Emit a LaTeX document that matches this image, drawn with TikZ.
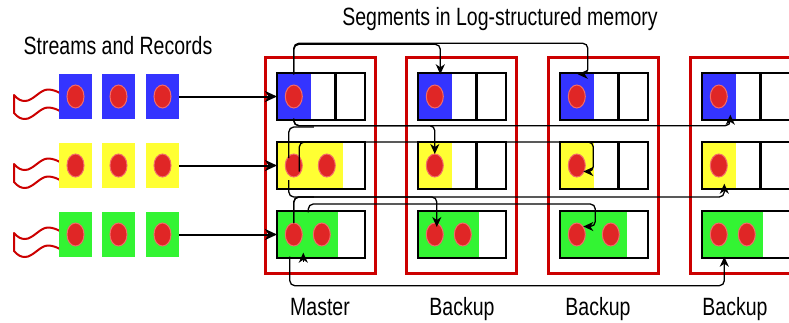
\documentclass[tikz,border=0pt]{standalone}
\usepackage{fontspec}
\newfontfamily\labelfont{Liberation Sans}[FakeStretch=0.78]
\usetikzlibrary{arrows.meta,calc,shapes.geometric}
\definecolor{MemRed}{HTML}{CC0000}
\definecolor{RecBlue}{HTML}{3434FF}
\definecolor{RecYellow}{HTML}{FFFF33}
\definecolor{RecGreen}{HTML}{33F433}
\definecolor{BallRed}{HTML}{E02626}
\definecolor{BallRim}{HTML}{F26A6A}

\begin{document}
\begin{tikzpicture}[x=1pt,y=-1pt,
  rec/.style={rectangle,inner sep=0pt,outer sep=0pt,minimum width=33pt,minimum height=45pt},
  ball/.style={ellipse,inner sep=0pt,outer sep=0pt,minimum width=17pt,minimum height=23pt,fill=BallRed,draw=BallRim,line width=1pt},
  seg/.style={rectangle,draw,fill=white,line width=2.6pt,inner sep=0pt,outer sep=0pt,minimum width=88pt,minimum height=47pt},
  grp/.style={draw=MemRed,line width=3pt},
  flag/.style={draw=MemRed,line width=2pt,fill=white,line join=round},
  feed/.style={line width=2pt,-{Stealth[length=12pt,width=11pt,inset=3.5pt]}},
  link/.style={line width=1.3pt,rounded corners=5pt,-{Stealth[length=10pt,width=9pt,inset=3pt]}},
  wire/.style={line width=1.3pt,rounded corners=5pt},
  lbl/.style={font=\labelfont\fontsize{25}{28}\selectfont,inner sep=0pt,anchor=base}]
  \useasboundingbox (0,0) rectangle (789,322);

  % Titles
  \node[lbl] (ttlstreams) at (118,54) {Streams and Records};
  \node[lbl] (ttlsegs) at (500,25) {Segments in Log-structured memory};

  % Streams
  \foreach \rw/\col/\y in {1/RecBlue/96.5,2/RecYellow/165.5,3/RecGreen/234.5}{
    \draw[flag] (14,\y-1.5) .. controls (18,\y+3) and (21,\y+4.5) .. (25,\y+4.5)
      .. controls (33,\y+4.5) and (40,\y-7) .. (48,\y-7)
      .. controls (53,\y-7) and (57,\y-5) .. (60,\y-3.5) -- (60,\y+14.5)
      .. controls (57,\y+13) and (53,\y+11) .. (48,\y+11)
      .. controls (40,\y+11) and (33,\y+22.5) .. (25,\y+22.5)
      .. controls (21,\y+22.5) and (18,\y+21) .. (14,\y+16.5) -- cycle;
    \foreach \k/\x in {1/75.5,2/118.5,3/162.5}{
      \node[rec,fill=\col] (s\rw\k) at (\x,\y) {};
      \node[ball] (b\rw\k) at (s\rw\k) {};
    }
  }

  % Segments
  \foreach \g/\x in {m/277,a/418,b/560,c/702}{
    \draw[grp] (\x-12,57) rectangle (\x+98,273);
    \foreach \rw/\y in {1/96.5,2/165.5,3/234.5}{
      \node[seg] (\g\rw) at (\x+44,\y) {};
      \draw[line width=2.6pt] (\g\rw.north west) ++(29.33,0) -- ++(0,47) ++(29.33,-47) -- ++(0,47);
    }
  }
  \foreach \s/\col/\w in {m1/RecBlue/33,m2/RecYellow/65,m3/RecGreen/60,
                         a1/RecBlue/33,a2/RecYellow/33,a3/RecGreen/60,
                         b1/RecBlue/33,b2/RecYellow/33,b3/RecGreen/66,
                         c1/RecBlue/33,c2/RecYellow/33,c3/RecGreen/60}{
    \node[rec,fill=\col,minimum width=\w pt,minimum height=44.4pt,anchor=west] (\s r) at ($(\s.west)+(1.3,0)$) {};
    \node[ball] (\s b1) at ($(\s r.west)+(15.5,0)$) {};
  }
  \foreach \s in {m2,m3,a3,b3,c3}
    \node[ball] (\s b2) at ($(\s r.east)+(-16.5,0)$) {};

  % Streams into the master
  \foreach \rw in {1,2,3}
    \draw[feed] (s\rw3) -- (m\rw);

  % Copies to the backups
  \draw[link] (m1b1 |- m1r.north) |- ($(a1r.north)+(4.5,-30)$) -- ($(a1r.north)+(4.5,0)$);
  \draw[link] (m1b1 |- m1r.north) |- ($(b1r.north)+(10,-31)$) |- (b1r.north);
  \draw[link] (m1b1 |- m1r.south) -- ++(0,7) -| (a2b1.north);
  \draw[link] (m1b1 |- m1r.south) -- ++(0,7) -| ($(c1r.south)+(10.5,-4)$);
  \draw[wire] ($(m2b1.north)+(-5,4)$) |- ($(m2b1.north)+(20,-27)$);
  \draw[link] ($(m2b1.east)+(-3,6)$) |- ($(b2b1.east)+(8,-23.5)$) |- ($(b2b1.east)+(-2,6)$);
  \draw[wire] ($(m2b1.south)+(-5,3)$) |- ($(m2b1.south)+(20,20)$);
  \draw[link] (m3b1.north) -- ++(0,-26) -| ($(a3b1.north)+(2,4)$);
  \draw[link] (m3b1.north) -- ++(0,-26) -| ($(c2r.south)+(4.5,-4)$);
  \draw[link] (m3r.north) |- ($(b3b1.east)+(10,-30.5)$) |- ($(b3b1.east)+(-2,-8)$);
  \draw[link] ($(m3b1 |- m3r.south)+(-4,0)$) -- ++(0,29) -| ($(c3b1 |- c3r.south)+(5.5,0)$);
  \draw[link] ($(m3r.south)+(-5,5)$) -- ($(m3r.south)+(-5,-4)$);

  % Labels
  \node[lbl] (lblm) at (320,315) {Master};
  \node[lbl] (lbla) at (462,315) {Backup};
  \node[lbl] (lblb) at (598,315) {Backup};
  \node[lbl] (lblc) at (735,315) {Backup};
\end{tikzpicture}
\end{document}
